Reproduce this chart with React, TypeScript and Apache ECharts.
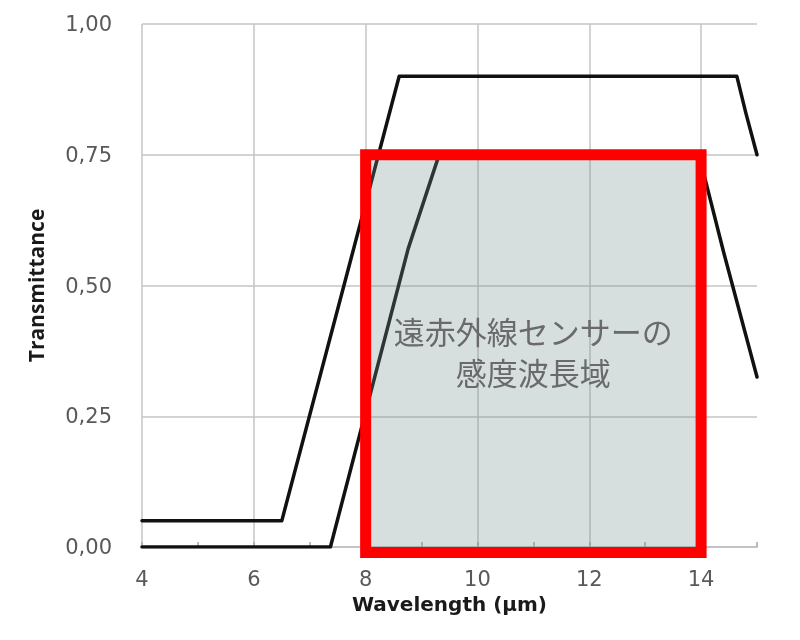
import React, { useEffect, useRef } from "react";
import * as echarts from "echarts";

// Filter transmittance curves (wavelength in μm, transmittance 0..1)
const wavelengthA = [4, 6.5, 8.6, 14.64, 14.8, 15];
const transmittanceA = [0.05, 0.05, 0.9, 0.9, 0.83, 0.75];

const wavelengthB = [4, 7.37, 8.76, 9.33, 13.95, 14.4, 15];
const transmittanceB = [0, 0, 0.57, 0.755, 0.755, 0.565, 0.325];

// Axis ranges and tick steps
const xRange = [4, 15];
const xLabelStep = 2;
const xMinorStep = 1;
const yRange = [0, 1];
const yStep = 0.25;

// Sensitive wavelength range of the far-infrared sensor
const sensorBand = [8, 14];
const sensorBandTop = 0.75;
const sensorLabel = "遠赤外線センサーの\n感度波長域";

const wide = "'DejaVu Sans', 'Open Sans', sans-serif";
const latin = "'Open Sans', 'DejaVu Sans', sans-serif";
const cjk = "'Noto Sans CJK JP', 'Noto Sans', sans-serif";

export default function App() {
  const ref = useRef<HTMLDivElement>(null);

  useEffect(() => {
    if (!ref.current) return;
    const chart = echarts.init(ref.current, null, { renderer: "svg" });

    const curve = (xs: number[], ys: number[], name: string) => ({
      type: "line",
      name,
      xAxisIndex: 0,
      yAxisIndex: 0,
      data: xs.map((x, i) => [x, ys[i]]),
      symbol: "none",
      lineStyle: { color: "#111111", width: 3.5, cap: "round", join: "round" },
      z: 3,
    });

    chart.setOption({
      animation: false,
      grid: { left: 142, right: 43, top: 24, bottom: 93, containLabel: false },
      xAxis: [
        {
          type: "value",
          min: xRange[0],
          max: xRange[1],
          interval: xLabelStep,
          position: "bottom",
          name: "Wavelength (μm)",
          nameLocation: "middle",
          nameGap: 45,
          nameTextStyle: {
            fontFamily: wide,
            fontSize: 20,
            fontWeight: "bold",
            color: "#1a1a1a",
          },
          axisLine: { show: true, lineStyle: { color: "#bfbfbf", width: 1.5 } },
          axisTick: { show: false },
          axisLabel: {
            showMaxLabel: false,
            fontFamily: wide,
            fontSize: 21,
            color: "#595959",
            margin: 21,
          },
          splitLine: {
            show: true,
            showMaxLine: false,
            lineStyle: { color: "#c4c4c4", width: 1.5 },
          },
        },
        {
          type: "value",
          min: xRange[0],
          max: xRange[1],
          interval: xMinorStep,
          position: "bottom",
          axisLine: { show: false },
          axisTick: {
            show: true,
            inside: true,
            length: 5,
            lineStyle: { color: "#a6a6a6", width: 1.5 },
          },
          axisLabel: { show: false },
          splitLine: { show: false },
        },
      ],
      yAxis: {
        type: "value",
        min: yRange[0],
        max: yRange[1],
        interval: yStep,
        name: "Transmittance",
        nameLocation: "middle",
        nameGap: 96,
        nameTextStyle: {
          fontFamily: latin,
          fontSize: 21,
          fontWeight: "bold",
          color: "#1a1a1a",
        },
        axisLine: { show: false },
        axisTick: { show: false },
        axisLabel: {
          fontFamily: wide,
          fontSize: 21,
          color: "#595959",
          margin: 30,
          formatter: (v: number) => v.toFixed(2).replace(".", ","),
        },
        splitLine: { show: true, lineStyle: { color: "#c4c4c4", width: 1.5 } },
      },
      series: [
        curve(wavelengthA, transmittanceA, "A"),
        curve(wavelengthB, transmittanceB, "B"),
      ],
    });

    // Highlighted sensor band, placed through the series' coordinate system
    const border = 11;
    const [x0, y0] = chart.convertToPixel({ seriesIndex: 0 }, [
      sensorBand[0],
      sensorBandTop,
    ]) as number[];
    const [x1, y1] = chart.convertToPixel({ seriesIndex: 0 }, [
      sensorBand[1],
      yRange[0],
    ]) as number[];

    chart.setOption({
      graphic: [
        {
          type: "rect",
          z: 10,
          shape: { x: x0, y: y0, width: x1 - x0, height: y1 - y0 + border / 2 },
          style: {
            fill: "rgba(112, 142, 142, 0.29)",
            stroke: "#ff0000",
            lineWidth: border,
          },
        },
        {
          type: "text",
          z: 11,
          x: (x0 + x1) / 2,
          y: (y0 + y1) / 2,
          style: {
            text: sensorLabel,
            fontFamily: cjk,
            fontSize: 31,
            lineHeight: 41,
            fill: "#6a6a6a",
            align: "center",
            verticalAlign: "middle",
          },
        },
      ],
    });

    return () => chart.dispose();
  }, []);

  return (
    <div
      ref={ref}
      style={{ position: "fixed", left: 0, top: 0, width: 800, height: 640 }}
    />
  );
}
